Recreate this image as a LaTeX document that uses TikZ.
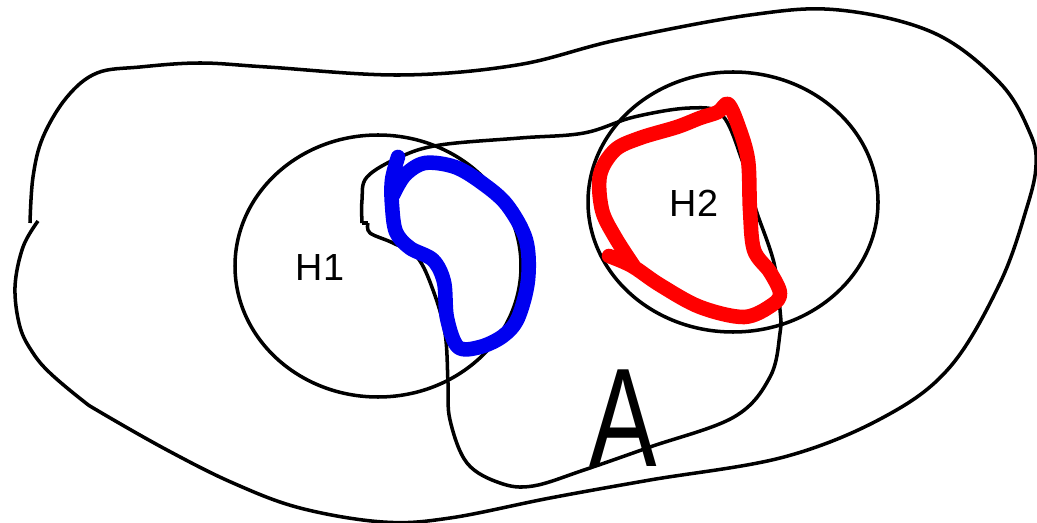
\documentclass[tikz,border=0pt]{standalone}
\usepackage{fontspec}
\newfontfamily\labfont{Liberation Sans}
\usepackage{tikz}
\definecolor{holeBlue}{RGB}{0, 0, 240}
\definecolor{holeRed}{RGB}{255, 0, 0}

\begin{document}
\begin{tikzpicture}[x=0.02cm, y=-0.02cm,
  pen/.style={black, line width=2pt, line cap=butt, line join=round},
  blob/.style={line width=8.3pt, line cap=round, line join=round},
  lab/.style={font=\labfont\fontsize{21.5}{24}\selectfont, inner sep=0pt},
]
  \useasboundingbox (0,0) rectangle (1037,523);

  % outer region
  \draw[pen] plot[smooth, tension=0.6] coordinates {
    (38,221) (23,247) (15,287) (20,327) (33,353) (50,373) (82,400)
    (100,412) (167,450) (233,483) (300,508) (383,522) (450,518)
    (550,498) (650,480) (784,457) (884,417) (950,367) (1000,283)
    (1027,207) (1036,165) (1030,133) (1000,83) (934,33) (839,10)
    (750,15) (617,40) (517,65) (400,75) (267,67) (200,63) (140,67)
    (97,73) (67,97) (43,137) (33,177) (30,223)};

  % the two circles
  \draw[pen] (378,266) ellipse [x radius=143, y radius=131];
  \draw[pen] (733,202) ellipse [x radius=145, y radius=130];

  % inner loop
  \draw[pen] (368,223) -- (362,223);
  \draw[pen] plot[smooth, tension=0.6] coordinates {
    (362,223) (362,200) (367,177) (400,157) (440,145) (520,138)
    (584,133) (634,117) (690,108) (722,115) (742,160) (752,195)
    (757,213) (774,263) (780,310) (780,333) (770,377) (734,417)
    (650,447) (584,470) (533,486) (500,483) (467,463) (450,420)
    (448,383) (445,333) (433,290) (417,257) (393,243) (370,233)
    (368,223)};

  % blue curve
  \draw[blob, holeBlue] plot[smooth, tension=0.55] coordinates {
    (398,157) (392,180) (392,205) (396,232) (410,248) (433,260)
    (444,282) (447,318) (458,347) (480,347) (503,336) (518,318)
    (528,280) (526,240) (507,205) (482,183) (455,167) (425,163)
    (405,175) (393,195)};

  % red curve
  \draw[blob, holeRed] plot[smooth, tension=0.55] coordinates {
    (609,256) (632,266) (660,285) (700,307) (744,317) (772,305)
    (780,293) (770,272) (754,250) (750,210) (748,160) (738,125)
    (728,104) (718,112) (700,118) (677,127) (640,138) (615,150)
    (600,175) (602,210) (615,237) (635,268)};

  % labels
  \node[lab] (labH1) at (320,268) {H1};
  \node[lab] (labH2) at (694,203) {H2};
  \node[font=\labfont\fontsize{80}{80}\selectfont, inner sep=0pt,
        xscale=0.72] (labA) at (623,418) {A};
\end{tikzpicture}
\end{document}
